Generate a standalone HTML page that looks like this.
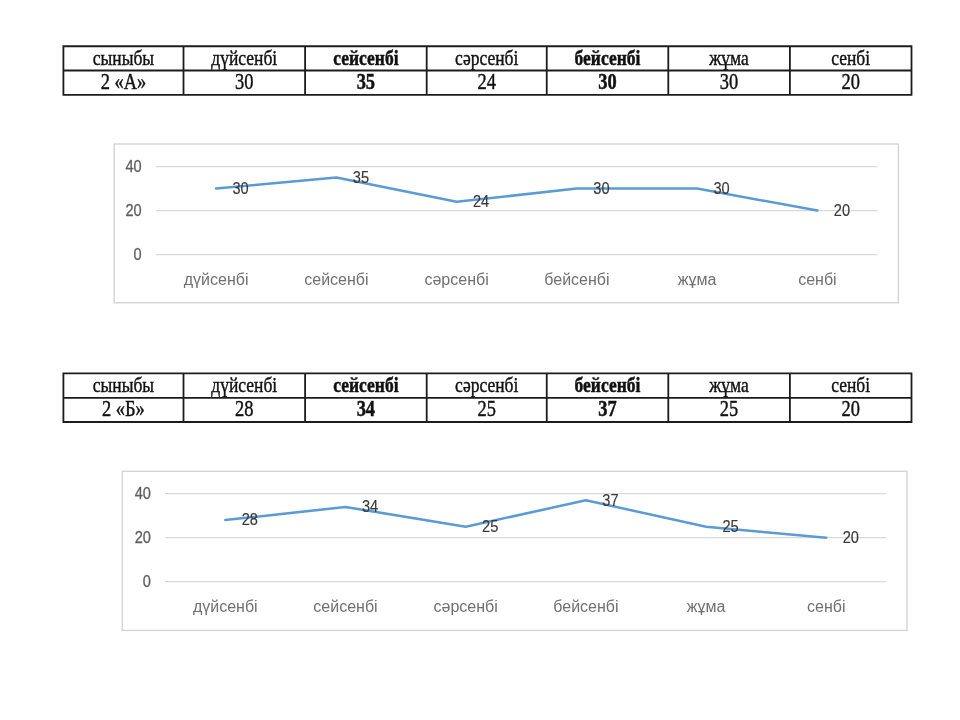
<!DOCTYPE html>
<html lang="kk"><head><meta charset="utf-8"><title>Кесте</title>
<style>
html,body{margin:0;padding:0;background:#fff}
body{width:960px;height:720px;position:relative;overflow:hidden;font-family:"Liberation Serif",serif}
.tw{position:absolute;filter:blur(.35px)}
.t{position:absolute;border-collapse:collapse;table-layout:fixed;color:#111}
.t td{border:0;text-align:center;vertical-align:top;padding:0;line-height:20px;overflow:visible;white-space:nowrap;font-size:17.5px}
.t tr+tr td{font-size:18.4px}
.t span{display:inline-block;transform:scaleY(1.25);transform-origin:50% 16px;-webkit-text-stroke:.35px #111;position:relative;top:2.4px}
.t tr+tr span{top:2.2px}
.t b span{-webkit-text-stroke:.4px #111}
.g{position:absolute;left:0;top:0;overflow:visible}
.c{position:absolute;overflow:visible;filter:blur(.5px)}
.c text{font-family:"Liberation Sans","DejaVu Sans",sans-serif}
.ax{font-size:14.6px;fill:#5f5f5f;stroke:#5f5f5f;stroke-width:.25px}
.dl{font-size:14.6px;fill:#3a3a3a;stroke:#3a3a3a;stroke-width:.15px}
.ct{font-size:16px;fill:#707070}
</style></head><body>
<div class="tw" style="left:60px;top:43px;width:856px;height:56px"><table class="t" style="left:3.40px;top:3.25px;width:848.10px;height:48.65px"><colgroup><col style="width:120.10px"><col style="width:121.60px"><col style="width:121.60px"><col style="width:120.05px"><col style="width:121.55px"><col style="width:121.60px"><col style="width:121.60px"></colgroup><tr style="height:24.25px"><td><span>сыныбы</span></td><td><span>дүйсенбі</span></td><td><b><span>сейсенбі</span></b></td><td><span>сәрсенбі</span></td><td><b><span>бейсенбі</span></b></td><td><span>жұма</span></td><td><span>сенбі</span></td></tr><tr style="height:24.40px"><td><span>2 «А»</span></td><td><span>30</span></td><td><b><span>35</span></b></td><td><span>24</span></td><td><b><span>30</span></b></td><td><span>30</span></td><td><span>20</span></td></tr></table><svg class="g" width="856" height="56" viewBox="60 43 856 56"><path d="M63.40 45.35V95.80M183.50 45.35V95.80M305.10 45.35V95.80M426.70 45.35V95.80M546.75 45.35V95.80M668.30 45.35V95.80M789.90 45.35V95.80M911.50 45.35V95.80M62.50 46.25H912.40M62.50 70.50H912.40M62.50 94.90H912.40" fill="none" stroke="#1c1c1c" stroke-width="1.8"/></svg></div>
<svg class="c" style="left:112px;top:142px" width="789" height="163" viewBox="112 142 789 163"><rect x="114.2" y="144.0" width="784.20" height="158.80" fill="#fff" stroke="#d2d2d2" stroke-width="1.3"/><line x1="156" x2="877.5" y1="254.60" y2="254.60" stroke="#d9d9d9" stroke-width="1.3"/><text class="ax" transform="translate(141.7 259.6) scale(1 1.18)" text-anchor="end">0</text><line x1="156" x2="877.5" y1="210.60" y2="210.60" stroke="#d9d9d9" stroke-width="1.3"/><text class="ax" transform="translate(141.7 215.6) scale(1 1.18)" text-anchor="end">20</text><line x1="156" x2="877.5" y1="166.60" y2="166.60" stroke="#d9d9d9" stroke-width="1.3"/><text class="ax" transform="translate(141.7 171.6) scale(1 1.18)" text-anchor="end">40</text><polyline fill="none" stroke="#5b9bd5" stroke-width="2.5" stroke-linejoin="round" stroke-linecap="round" points="216.1,188.6 336.4,177.6 456.6,201.8 576.9,188.6 697.1,188.6 817.4,210.6"/><text class="dl" transform="translate(240.6 193.9) scale(1 1.18)" text-anchor="middle">30</text><text class="ct" x="216.1" y="284.9" text-anchor="middle">дүйсенбі</text><text class="dl" transform="translate(360.9 182.9) scale(1 1.18)" text-anchor="middle">35</text><text class="ct" x="336.4" y="284.9" text-anchor="middle">сейсенбі</text><text class="dl" transform="translate(481.1 207.1) scale(1 1.18)" text-anchor="middle">24</text><text class="ct" x="456.6" y="284.9" text-anchor="middle">сәрсенбі</text><text class="dl" transform="translate(601.4 193.9) scale(1 1.18)" text-anchor="middle">30</text><text class="ct" x="576.9" y="284.9" text-anchor="middle">бейсенбі</text><text class="dl" transform="translate(721.6 193.9) scale(1 1.18)" text-anchor="middle">30</text><text class="ct" x="697.1" y="284.9" text-anchor="middle">жұма</text><text class="dl" transform="translate(841.9 215.9) scale(1 1.18)" text-anchor="middle">20</text><text class="ct" x="817.4" y="284.9" text-anchor="middle">сенбі</text></svg>
<div class="tw" style="left:60px;top:370px;width:856px;height:56px"><table class="t" style="left:3.40px;top:3.30px;width:848.10px;height:48.70px"><colgroup><col style="width:120.10px"><col style="width:121.60px"><col style="width:121.60px"><col style="width:120.05px"><col style="width:121.55px"><col style="width:121.60px"><col style="width:121.60px"></colgroup><tr style="height:24.60px"><td><span>сыныбы</span></td><td><span>дүйсенбі</span></td><td><b><span>сейсенбі</span></b></td><td><span>сәрсенбі</span></td><td><b><span>бейсенбі</span></b></td><td><span>жұма</span></td><td><span>сенбі</span></td></tr><tr style="height:24.10px"><td><span>2 «Б»</span></td><td><span>28</span></td><td><b><span>34</span></b></td><td><span>25</span></td><td><b><span>37</span></b></td><td><span>25</span></td><td><span>20</span></td></tr></table><svg class="g" width="856" height="56" viewBox="60 370 856 56"><path d="M63.40 372.40V422.90M183.50 372.40V422.90M305.10 372.40V422.90M426.70 372.40V422.90M546.75 372.40V422.90M668.30 372.40V422.90M789.90 372.40V422.90M911.50 372.40V422.90M62.50 373.30H912.40M62.50 397.90H912.40M62.50 422.00H912.40" fill="none" stroke="#1c1c1c" stroke-width="1.8"/></svg></div>
<svg class="c" style="left:120px;top:469px" width="790" height="164" viewBox="120 469 790 164"><rect x="122.3" y="471.3" width="784.70" height="159.10" fill="#fff" stroke="#d2d2d2" stroke-width="1.3"/><line x1="165.2" x2="886.4" y1="581.70" y2="581.70" stroke="#d9d9d9" stroke-width="1.3"/><text class="ax" transform="translate(150.9 586.7) scale(1 1.18)" text-anchor="end">0</text><line x1="165.2" x2="886.4" y1="537.70" y2="537.70" stroke="#d9d9d9" stroke-width="1.3"/><text class="ax" transform="translate(150.9 542.7) scale(1 1.18)" text-anchor="end">20</text><line x1="165.2" x2="886.4" y1="493.70" y2="493.70" stroke="#d9d9d9" stroke-width="1.3"/><text class="ax" transform="translate(150.9 498.7) scale(1 1.18)" text-anchor="end">40</text><polyline fill="none" stroke="#5b9bd5" stroke-width="2.5" stroke-linejoin="round" stroke-linecap="round" points="225.3,520.1 345.5,506.9 465.7,526.7 585.9,500.3 706.1,526.7 826.3,537.7"/><text class="dl" transform="translate(249.8 525.4) scale(1 1.18)" text-anchor="middle">28</text><text class="ct" x="225.3" y="612.0" text-anchor="middle">дүйсенбі</text><text class="dl" transform="translate(370.0 512.2) scale(1 1.18)" text-anchor="middle">34</text><text class="ct" x="345.5" y="612.0" text-anchor="middle">сейсенбі</text><text class="dl" transform="translate(490.2 532.0) scale(1 1.18)" text-anchor="middle">25</text><text class="ct" x="465.7" y="612.0" text-anchor="middle">сәрсенбі</text><text class="dl" transform="translate(610.4 505.6) scale(1 1.18)" text-anchor="middle">37</text><text class="ct" x="585.9" y="612.0" text-anchor="middle">бейсенбі</text><text class="dl" transform="translate(730.6 532.0) scale(1 1.18)" text-anchor="middle">25</text><text class="ct" x="706.1" y="612.0" text-anchor="middle">жұма</text><text class="dl" transform="translate(850.8 543.0) scale(1 1.18)" text-anchor="middle">20</text><text class="ct" x="826.3" y="612.0" text-anchor="middle">сенбі</text></svg>
</body></html>
